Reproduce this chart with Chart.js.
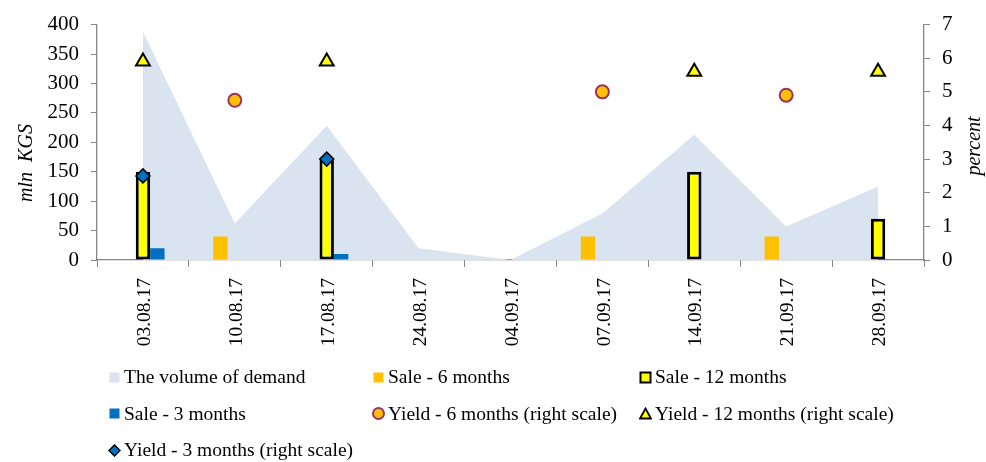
<!DOCTYPE html>
<html>
<head>
<meta charset="utf-8">
<script src="https://cdn.jsdelivr.net/npm/chart.js@4"></script>
<style>
body { margin: 0; background: #fff; }
#wrap { position: relative; width: 986px; height: 462px; }
#legend {
	position: absolute; left: 108px; top: 359px;
	display: grid; grid-template-columns: 264px 267px auto; grid-auto-rows: 36.5px;
	font: 19.5px 'Liberation Serif', serif; color: #000;
}
.item { display: flex; align-items: center; white-space: nowrap; }
.item svg { margin-right: 3px; }
</style>
</head>
<body>
<div id="wrap">
	<canvas id="myChart"></canvas>
	<div id="legend"></div>
</div>
<script>
const dates = ['03.08.17', '10.08.17', '17.08.17', '24.08.17', '04.09.17', '07.09.17', '14.09.17', '21.09.17', '28.09.17'];
const demand = [388, 62, 228, 20, 0, 79, 213, 57, 125];
const sale6 = [null, 40, null, null, null, 40, null, 40, null];
const sale12 = [150, null, 170, null, null, null, 150, null, 70];
const sale3 = [20, null, 10, null, null, null, null, null, null];
const yield6 = [null, 4.75, null, null, null, 5.0, null, 4.9, null];
const yield12 = [5.9, null, 5.9, null, null, null, 5.6, null, 5.6];
const yield3 = [2.5, null, 3.0, null, null, null, null, null, null];

const axisGrey = '#868686';
Chart.defaults.font.family = "'Liberation Serif', serif";
Chart.defaults.color = '#000';

// x labels read bottom-to-top, plus the two axis titles
const axisText = {
	id: 'axisText',
	afterDraw(chart) {
		const ctx = chart.ctx;
		const x = chart.scales.x;
		ctx.save();
		ctx.fillStyle = '#000';
		ctx.font = "19.5px 'Liberation Serif'";
		ctx.textAlign = 'right';
		ctx.textBaseline = 'middle';
		dates.forEach((d, i) => {
			ctx.save();
			ctx.translate(x.getPixelForTick(i) + 2, x.top + 18);
			ctx.rotate(-Math.PI / 2);
			ctx.fillText(d, 0, 0);
			ctx.restore();
		});
		ctx.font = "italic 20px 'Liberation Serif'";
		ctx.textAlign = 'center';
		ctx.save();
		ctx.translate(27, 163);
		ctx.rotate(-Math.PI / 2);
		ctx.fillText('mln  KGS', 0, 0);
		ctx.restore();
		ctx.save();
		ctx.translate(975, 146);
		ctx.rotate(-Math.PI / 2);
		ctx.fillText('percent', 0, 0);
		ctx.restore();
		ctx.restore();
	}
};

const chart = new Chart(document.getElementById('myChart'), {
	data: {
		labels: dates,
		datasets: [
			{
				type: 'line', label: 'The volume of demand', data: demand, yAxisID: 'y',
				fill: 'origin', backgroundColor: '#dae3f0', borderWidth: 0, pointRadius: 0, tension: 0, order: 3,
			},
			{
				type: 'bar', label: 'Sale - 6 months', data: sale6, yAxisID: 'y',
				backgroundColor: '#ffc000', order: 2,
			},
			{
				type: 'bar', label: 'Sale - 12 months', data: sale12, yAxisID: 'y',
				backgroundColor: '#ffff00', borderColor: '#000', borderWidth: 3, borderSkipped: false, order: 2,
			},
			{
				type: 'bar', label: 'Sale - 3 months', data: sale3, yAxisID: 'y',
				backgroundColor: '#0070c0', order: 2,
			},
			{
				type: 'line', label: 'Yield - 6 months (right scale)', data: yield6, yAxisID: 'y1', showLine: false,
				pointStyle: 'circle', pointRadius: 6.5, backgroundColor: '#ffc000', borderColor: '#993366', pointBorderWidth: 2, order: 1,
			},
			{
				type: 'line', label: 'Yield - 12 months (right scale)', data: yield12, yAxisID: 'y1', showLine: false,
				pointStyle: 'triangle', pointRadius: 8, backgroundColor: '#ffff00', borderColor: '#000', pointBorderWidth: 2, order: 1,
			},
			{
				type: 'line', label: 'Yield - 3 months (right scale)', data: yield3, yAxisID: 'y1', showLine: false,
				pointStyle: 'rectRot', pointRadius: 7, backgroundColor: '#0070c0', borderColor: '#000', pointBorderWidth: 1.5, order: 1,
			},
		]
	},
	options: {
		responsive: true,
		maintainAspectRatio: false,
		animation: false,
		layout: { padding: { top: 23, left: 0, right: 0, bottom: 0 } },
		datasets: { bar: { categoryPercentage: 0.47, barPercentage: 1 } },
		plugins: { legend: { display: false }, tooltip: { enabled: false } },
		scales: {
			x: {
				offset: true,
				ticks: { display: false },
				grid: { drawOnChartArea: false, drawTicks: true, tickLength: 7, color: axisGrey, offset: true },
				border: { color: axisGrey, width: 1.3 },
				afterFit: s => { s.height = 202; },
			},
			y: {
				position: 'left', min: 0, max: 400,
				ticks: { stepSize: 50, padding: 12, font: { size: 21 } },
				grid: { drawOnChartArea: false, tickLength: 6, color: axisGrey },
				border: { color: axisGrey, width: 1.3 },
				afterFit: s => { s.width = 97; },
			},
			y1: {
				position: 'right', min: 0, max: 7,
				ticks: { stepSize: 1, padding: 12, font: { size: 21 } },
				grid: { drawOnChartArea: false, tickLength: 6, color: axisGrey },
				border: { color: axisGrey, width: 1.3 },
				afterFit: s => { s.width = 62; },
			},
		}
	},
	plugins: [axisText]
});

// html legend in three columns, built from the datasets
function marker(ds) {
	const fill = ds.backgroundColor;
	const stroke = ds.borderColor || 'none';
	let shape;
	if (ds.type === 'bar' || ds.type === 'line' && ds.fill) {
		shape = ds.borderWidth && ds.type === 'bar'
			? `<rect x="1.5" y="1.5" width="10" height="10" fill="${fill}" stroke="${stroke}" stroke-width="2"/>`
			: `<rect x="1.5" y="1.5" width="10" height="10" fill="${fill}"/>`;
	} else if (ds.pointStyle === 'circle') {
		shape = `<circle cx="6.5" cy="6.5" r="5.5" fill="${fill}" stroke="${stroke}" stroke-width="2"/>`;
	} else if (ds.pointStyle === 'triangle') {
		shape = `<polygon points="6.5,1.5 12,11.5 1,11.5" fill="${fill}" stroke="${stroke}" stroke-width="1.8"/>`;
	} else {
		shape = `<polygon points="6.5,1 12,6.5 6.5,12 1,6.5" fill="${fill}" stroke="${stroke}" stroke-width="1.5"/>`;
	}
	return `<svg width="13" height="13">${shape}</svg>`;
}
document.getElementById('legend').innerHTML = chart.data.datasets
	.map(ds => `<div class="item">${marker(ds)}<span>${ds.label}</span></div>`)
	.join('');
</script>
</body>
</html>
